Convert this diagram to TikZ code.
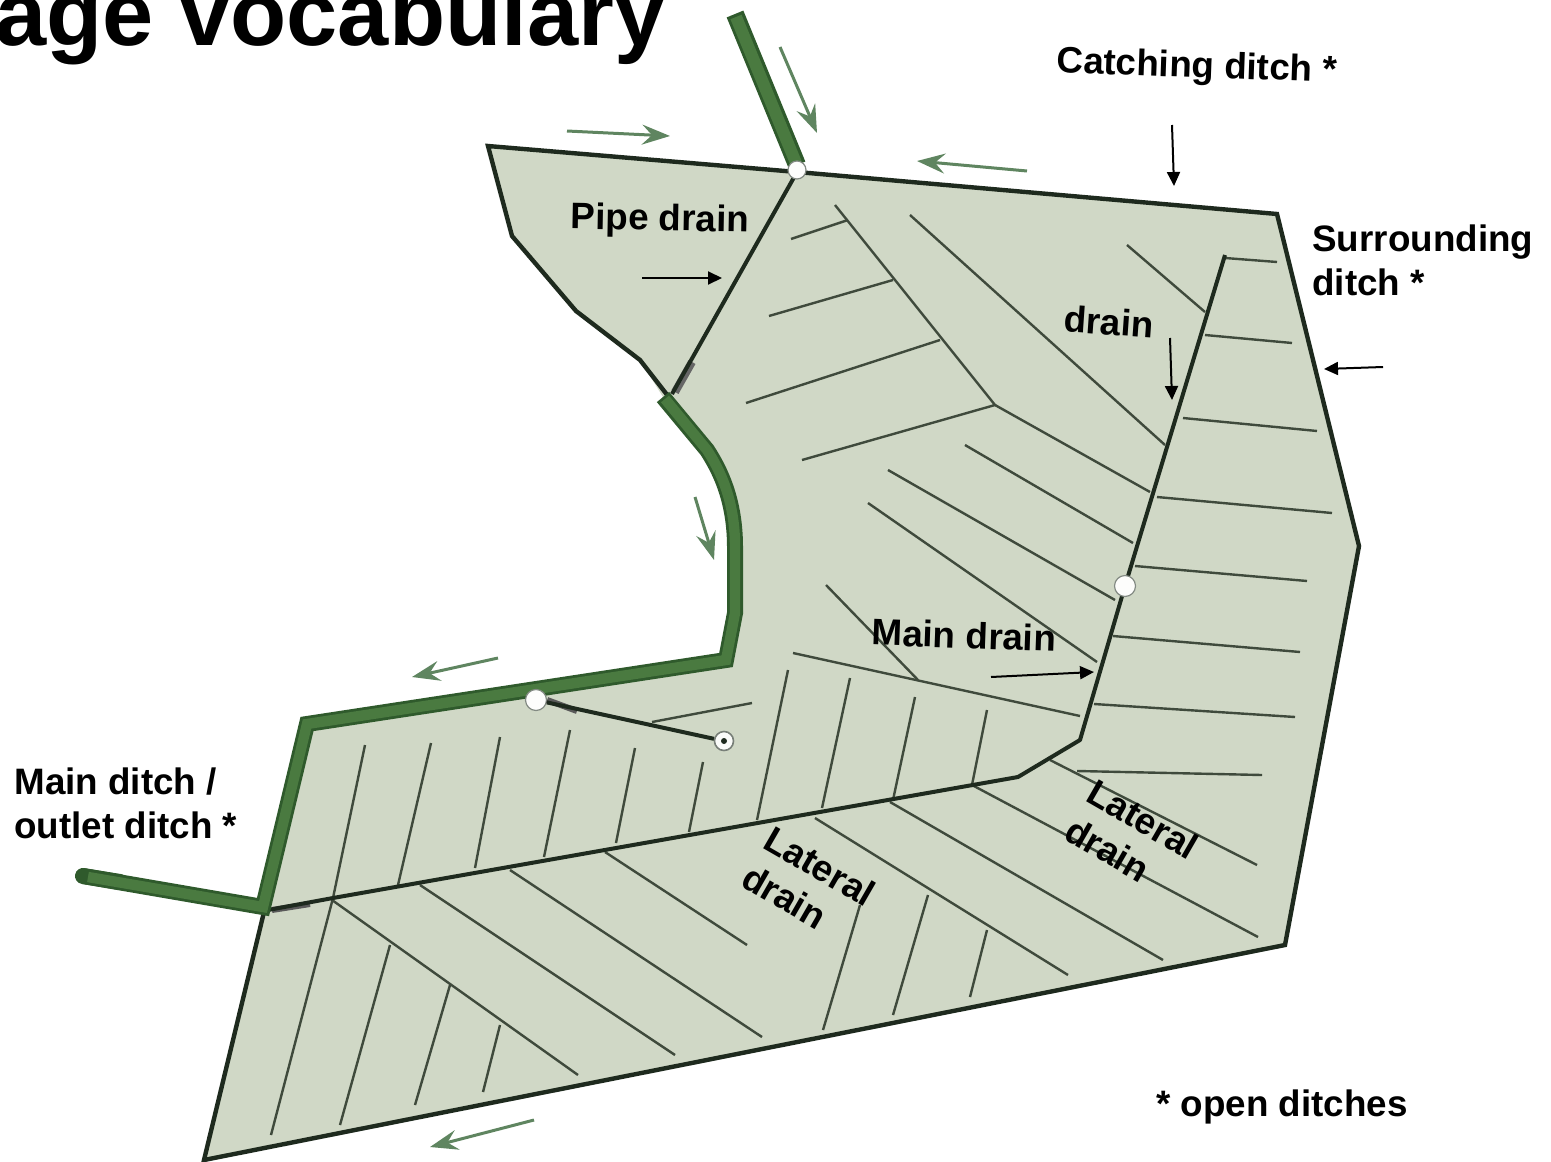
\documentclass[tikz,border=0pt]{standalone}
\usepackage{fontspec}
\setmainfont{Liberation Sans}
\usetikzlibrary{arrows.meta}
\definecolor{field}{HTML}{D0D8C6}
\definecolor{ditchdark}{HTML}{2F5A2C}
\definecolor{ditchgreen}{HTML}{4A7A40}
\definecolor{flowgreen}{HTML}{5F8560}
\definecolor{outline}{HTML}{1E2A1E}
\definecolor{thinline}{HTML}{3F4A3C}
\tikzset{
  x=0.5pt,y=-0.5pt,
  lateral/.style={draw=thinline,line width=1.2pt},
  border/.style={draw=outline,line width=2.2pt,line join=miter},
  drainline/.style={draw=outline,line width=2pt,line join=round},
  greenedge/.style={draw=ditchdark,line width=8pt,line join=miter},
  greencore/.style={draw=ditchgreen,line width=5.2pt,line join=miter},
  flow/.style={draw=flowgreen,line width=1.5pt,-{Stealth[length=14pt,width=10pt,inset=5pt]}},
  note/.style={draw=black,line width=1pt,-{Triangle[length=7pt,width=6.5pt]}},
  lbl/.style={font=\fontsize{18.4}{22}\selectfont\bfseries,inner sep=0pt,text=black},
  junction/.style={circle,fill=white!95!field,draw=outline!55,line width=0.6pt,minimum size=10pt,inner sep=0pt}
}
\begin{document}
\begin{tikzpicture}
\useasboundingbox (0,0) rectangle (1551,1161);
% title
\node[font=\fontsize{46}{50}\selectfont\bfseries,anchor=base west,inner sep=0pt] (title) at (-5,46) {age vocabulary};
% field
\fill[field] (488,146) -- (797,172) -- (1277,214) -- (1359,546) -- (1285,945) -- (204,1160)
  -- (264,912) -- (307,724) -- (726,660) -- (735,547) .. controls (735,500) and (720,470) .. (707,450) -- (663,397)
  -- (640,360) -- (576,311) -- (512,236) -- cycle;
% upper laterals
\draw[lateral] (835,205) -- (995,405) -- (802,460);
\draw[lateral] (995,405) -- (1150,492);
\draw[lateral] (940,340) -- (746,403);
\draw[lateral] (893,280) -- (769,316);
\draw[lateral] (848,220) -- (791,239);
\draw[lateral] (910,215) -- (1165,445);
\draw[lateral] (1127,245) -- (1205,312);
\draw[lateral] (965,445) -- (1133,543);
\draw[lateral] (888,470) -- (1115,600);
\draw[lateral] (868,503) -- (1097,662);
\draw[lateral] (793,653) -- (1080,716);
\draw[lateral] (826,585) -- (918,680);
% verticals above main drain
\draw[lateral] (788,670) -- (757,820);
\draw[lateral] (850,678) -- (822,808);
\draw[lateral] (915,697) -- (893,800);
\draw[lateral] (987,710) -- (972,785);
\draw[lateral] (365,745) -- (333,898);
\draw[lateral] (431,743) -- (398,885);
\draw[lateral] (500,737) -- (475,868);
\draw[lateral] (570,730) -- (544,857);
\draw[lateral] (635,748) -- (616,843);
\draw[lateral] (703,762) -- (689,832);
\draw[lateral] (752,703) -- (652,722);
% right laterals
\draw[lateral] (1225,258) -- (1277,262);
\draw[lateral] (1205,335) -- (1292,343);
\draw[lateral] (1183,418) -- (1317,431);
\draw[lateral] (1157,497) -- (1332,513);
\draw[lateral] (1135,566) -- (1307,581);
\draw[lateral] (1113,636) -- (1300,652);
\draw[lateral] (1094,704) -- (1295,717);
\draw[lateral] (1077,771) -- (1262,775);
% lower diagonals
\draw[lateral] (1050,760) -- (1257,865);
\draw[lateral] (972,785) -- (1258,937);
\draw[lateral] (890,802) -- (1163,960);
\draw[lateral] (815,818) -- (1068,975);
\draw[lateral] (605,852) -- (747,945);
\draw[lateral] (510,870) -- (762,1037);
\draw[lateral] (420,885) -- (675,1055);
\draw[lateral] (332,900) -- (578,1075);
% lower verticals
\draw[lateral] (333,898) -- (271,1135);
\draw[lateral] (390,945) -- (340,1125);
\draw[lateral] (450,985) -- (415,1105);
\draw[lateral] (500,1025) -- (483,1092);
\draw[lateral] (860,905) -- (823,1030);
\draw[lateral] (928,895) -- (893,1015);
\draw[lateral] (987,930) -- (970,997);
% pipe and main drains
\draw[draw=gray!80!black,line width=4pt] (692,362) -- (675,392);
\draw[drainline] (797,172) -- (672,394);
\draw[draw=gray!70!black,line width=3pt] (272,910) -- (310,904);
\draw[drainline] (1225,255) -- (1125,586) -- (1080,740) -- (1018,777) -- (333,898) -- (268,910);
% outline
\draw[border] (668,396) -- (640,360) -- (576,311) -- (512,236) -- (488,146) -- (797,172) -- (1277,214) -- (1359,546) -- (1285,945) -- (204,1160) -- (264,912);
% green ditches
\draw[greenedge,line cap=round] (83,876) -- (120,882);
\draw[greenedge] (83,876) -- (263,907) -- (307,724) -- (726,660) -- (735,613) -- (735,547) .. controls (735,500) and (720,470) .. (707,450) -- (663,397);
\draw[greencore] (88,877) -- (263,907) -- (307,724) -- (726,660) -- (735,613) -- (735,547) .. controls (735,500) and (720,470) .. (707,450) -- (665,399);
\draw[draw=ditchdark,line width=9pt] (735,14) -- (797,165);
\draw[draw=ditchgreen,line width=6pt] (736,17) -- (796,163);
% structures
\node[junction,minimum size=9pt] (topjunction) at (797,170) {};
\node[junction,minimum size=10.5pt] (pipeoutlet) at (536,700) {};
\node[junction,minimum size=10.5pt] (maindrainjoint) at (1125,586) {};
\node[circle,fill=white!90!field,draw=outline!60,line width=0.8pt,minimum size=9.5pt,inner sep=0pt] (inlet) at (724,741) {};
\node[circle,fill=outline,minimum size=3pt,inner sep=0pt] (inletdot) at (724,741) {};
\draw[draw=gray!70!black,line width=3pt] (pipeoutlet.east) -- (577,711);
\draw[drainline] (pipeoutlet) -- (inlet);
% flow arrows
\draw[flow] (567,131) -- (670,136);
\draw[flow] (1027,171) -- (917,161);
\draw[flow] (780,47) -- (817,133);
\draw[flow] (695,497) -- (714,560);
\draw[flow] (498,658) -- (412,677);
\draw[flow] (534,1120) -- (430,1147);
% labels
\node[lbl,rotate=-2] (catching) at (1197,68) {Catching ditch *};
\node[lbl,rotate=-1] (pipe) at (660,221) {Pipe drain};
\node[lbl,align=left,anchor=north west] (surrounding) at (1312,224) {Surrounding\\ditch *};
\node[lbl,rotate=-4] (drainlbl) at (1109,322) {drain};
\node[lbl,rotate=-2] (mainlbl) at (964,635) {Main drain};
\node[lbl,align=left,rotate=-30] (lat1) at (809,885) {Lateral\\drain};
\node[lbl,align=left,rotate=-30] (lat2) at (1132,838) {Lateral\\drain};
\node[lbl,align=left,anchor=north west] (mainditch) at (14,767) {Main ditch /\\outlet ditch *};
\node[lbl] (open) at (1282,1107) {* open ditches};
% label arrows
\coordinate (c1) at (1172,125); \coordinate (c2) at (1174,186);
\coordinate (p1) at (642,278);  \coordinate (p2) at (722,278);
\coordinate (d1) at (1170,338); \coordinate (d2) at (1172,400);
\coordinate (s1) at (1383,367); \coordinate (s2) at (1324,369);
\coordinate (m1) at (991,677);  \coordinate (m2) at (1094,672);
\draw[note] (c1) -- (c2);
\draw[note] (p1) -- (p2);
\draw[note] (d1) -- (d2);
\draw[note] (s1) -- (s2);
\draw[note] (m1) -- (m2);
\end{tikzpicture}
\end{document}
